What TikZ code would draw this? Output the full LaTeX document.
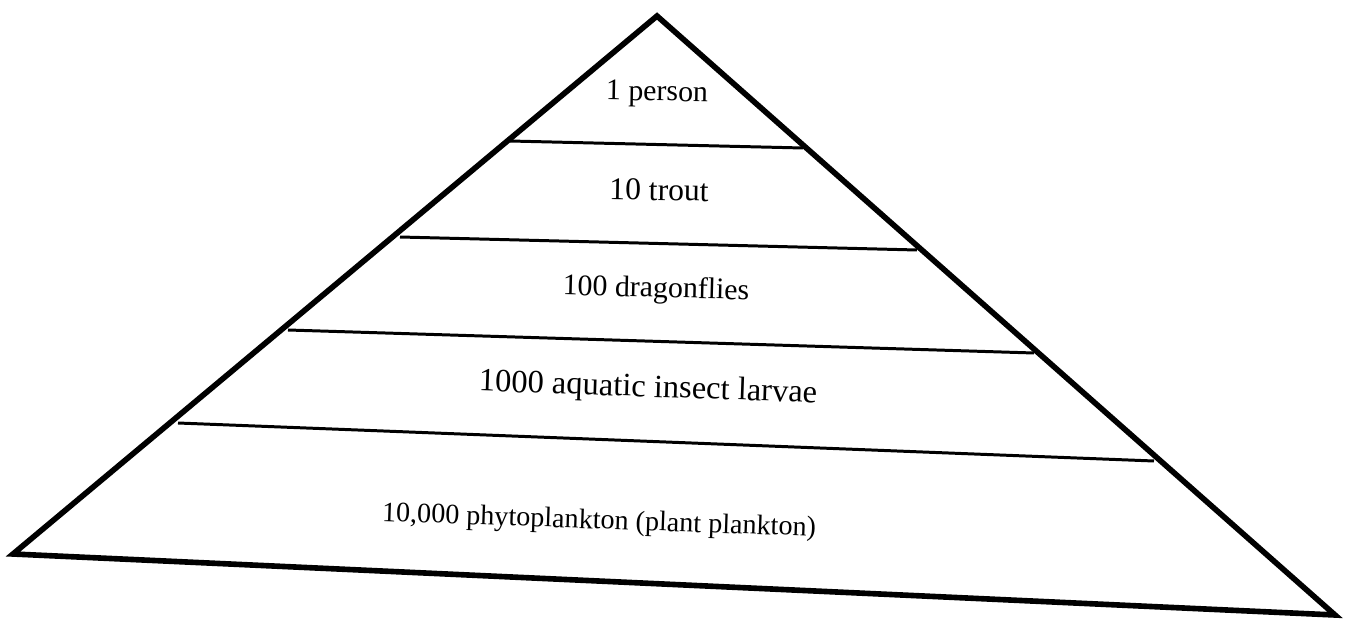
\documentclass[tikz,border=0pt]{standalone}
\usepackage{fontspec}
\setmainfont{Liberation Serif}
\begin{document}
\begin{tikzpicture}[x=0.02cm,y=-0.02cm,
  outline/.style={line width=3.2pt,line join=miter},
  tier/.style={line width=1.7pt},
  lbl/.style={inner sep=0pt,font=\fontsize{17}{19}\selectfont}]

\useasboundingbox (0,0) rectangle (1347,622);

\coordinate (apex) at (657,16);
\coordinate (bl) at (13,554);
\coordinate (br) at (1335,615);

%\fill[red] (apex) circle (2);

\draw [outline] (apex) -- (bl) -- (br) -- cycle;

\foreach \xa/\ya/\xb/\yb in {510/141/803/148, 400/237/917/250, 288/330/1034/353, 178/423/1154/461}{
\draw [tier] (\xa,\ya) -- (\xb,\yb);
}

\node[lbl,rotate=-1] at (657,94) (person) {1 person};
\node[lbl,rotate=-1,font=\fontsize{18}{20}\selectfont] at (659,190) (trout) {10 trout};
\node[lbl,rotate=-1.5] at (656,290) (dragon) {100 dragonflies};
\node[lbl,rotate=-2,font=\fontsize{18.5}{20}\selectfont] at (648,389) (larvae) {1000 aquatic insect larvae};
\node[lbl,rotate=-2,font=\fontsize{16}{18}\selectfont] at (599,522) (plankton) {10,000 phytoplankton (plant plankton)};

\end{tikzpicture}
\end{document}
